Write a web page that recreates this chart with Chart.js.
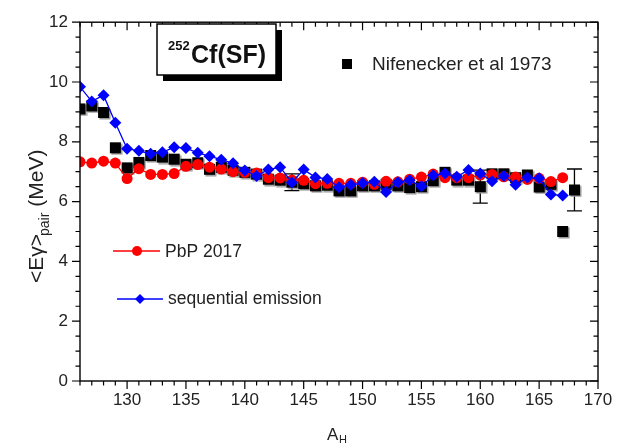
<!DOCTYPE html>
<html>
<head>
<meta charset="utf-8">
<script src="https://cdn.jsdelivr.net/npm/chart.js@4.4.0/dist/chart.umd.min.js"></script>
<style>
  html, body { margin: 0; padding: 0; background: #fff; }
</style>
</head>
<body>
<canvas id="chart" width="626" height="443"></canvas>
<script>
// heavy fragment mass A_H
const massModel = [126,127,128,129,130,131,132,133,134,135,136,137,138,139,140,141,142,143,144,145,146,
                   147,148,149,150,151,152,153,154,155,156,157,158,159,160,161,162,163,164,165,166,167];
const massExp = [126,127,128,129,130,131,132,133,134,135,136,137,138,139,140,141,142,143,144,145,146,
                 147,148,149,150,151,152,153,154,155,156,157,158,159,160,161,162,163,164,165,166,167,168];

// <E_gamma>_pair (MeV)
const pbp2017 = [7.33,7.29,7.35,7.29,6.77,7.10,6.91,6.91,6.94,7.18,7.24,7.15,7.09,7.00,6.98,6.96,6.80,6.79,6.72,6.71,6.60,
                 6.61,6.61,6.61,6.65,6.58,6.68,6.66,6.75,6.82,6.92,6.80,6.80,6.80,6.89,6.91,6.83,6.82,6.74,6.78,6.67,6.80];
const sequential = [9.84,9.35,9.56,8.64,7.77,7.70,7.60,7.65,7.82,7.79,7.63,7.52,7.40,7.28,7.04,6.86,7.07,7.15,6.64,7.07,6.81,
                    6.76,6.48,6.56,6.62,6.66,6.32,6.65,6.71,6.51,6.88,6.94,6.83,7.06,6.94,6.68,6.86,6.56,6.81,6.78,6.24,6.20];
const nifenecker = [9.10,9.20,8.98,7.80,7.13,7.31,7.54,7.49,7.42,7.25,7.30,7.08,7.15,7.05,6.98,6.92,6.75,6.72,6.65,6.60,6.53,
                    6.55,6.36,6.36,6.53,6.53,6.58,6.53,6.47,6.50,6.70,6.98,6.72,6.72,6.50,6.93,6.93,6.80,6.89,6.49,6.58,5.00,6.39];

// error bars on some of the 1973 points
const errMass = [144, 160, 168];
const errSize = [0.28, 0.55, 0.70];

const xTickLabels = [130, 135, 140, 145, 150, 155, 160, 165, 170];
const yTickLabels = [0, 2, 4, 6, 8, 10, 12];

const FONT = 'Arial, "Liberation Sans", sans-serif';
Chart.defaults.font.family = FONT;

// black square with a little grey shadow, like the original marker
const squareMark = document.createElement('canvas');
squareMark.width = 15;
squareMark.height = 15;
const sq = squareMark.getContext('2d');
sq.fillStyle = '#9a9a9a';
sq.fillRect(3.5, 3.5, 11, 11);
sq.fillStyle = '#000';
sq.fillRect(2, 2, 11, 11);

const toPoints = (xs, ys) => xs.map((x, i) => ({ x: x, y: ys[i] }));

const decorations = {
  id: 'decorations',
  beforeDatasetsDraw(chart) {
    const ctx = chart.ctx;
    const x = chart.scales.x, y = chart.scales.y;
    ctx.save();
    ctx.strokeStyle = '#000';
    ctx.lineWidth = 1.3;
    errMass.forEach((m, i) => {
      const v = nifenecker[massExp.indexOf(m)];
      const px = x.getPixelForValue(m);
      const y1 = y.getPixelForValue(v + errSize[i]);
      const y2 = y.getPixelForValue(v - errSize[i]);
      ctx.beginPath();
      ctx.moveTo(px, y1); ctx.lineTo(px, y2);
      ctx.moveTo(px - 7.5, y1); ctx.lineTo(px + 7.5, y1);
      ctx.moveTo(px - 7.5, y2); ctx.lineTo(px + 7.5, y2);
      ctx.stroke();
    });
    ctx.restore();
  },
  afterDraw(chart) {
    const ctx = chart.ctx;
    const {left, right, top, bottom} = chart.chartArea;
    const x = chart.scales.x, y = chart.scales.y;
    ctx.save();

    // frame and ticks (out on bottom/left, in on top/right)
    ctx.strokeStyle = '#000';
    ctx.lineWidth = 1.4;
    ctx.strokeRect(left, top, right - left, bottom - top);
    ctx.lineWidth = 1.2;
    ctx.beginPath();
    for (let v = x.min; v <= x.max; v++) {
      const px = x.getPixelForValue(v);
      const len = v % 5 === 0 ? 8 : 4.5;
      ctx.moveTo(px, bottom); ctx.lineTo(px, bottom + len);
      ctx.moveTo(px, top); ctx.lineTo(px, top + len);
    }
    for (let v = y.min; v <= y.max; v += 0.5) {
      const py = y.getPixelForValue(v);
      const len = v % 2 === 0 ? 8 : 4.5;
      ctx.moveTo(left, py); ctx.lineTo(left - len, py);
      ctx.moveTo(right, py); ctx.lineTo(right - len, py);
    }
    ctx.stroke();

    // 252Cf(SF) box with drop shadow
    ctx.fillStyle = '#000';
    ctx.fillRect(163, 30, 119, 51);
    ctx.fillStyle = '#fff';
    ctx.fillRect(157, 24, 119, 51);
    ctx.lineWidth = 1.5;
    ctx.strokeRect(157, 24, 119, 51);
    ctx.fillStyle = '#111';
    ctx.textBaseline = 'alphabetic';
    ctx.textAlign = 'left';
    ctx.font = 'bold 13px ' + FONT;
    ctx.fillText('252', 168, 50);
    ctx.font = 'bold 25px ' + FONT;
    ctx.fillText('Cf(SF)', 191, 63);

    // legends
    ctx.fillStyle = '#000';
    ctx.fillRect(342, 59, 10, 10);
    ctx.fillStyle = '#222';
    ctx.textBaseline = 'middle';
    ctx.font = '19px ' + FONT;
    ctx.fillText('Nifenecker et al 1973', 372, 65);

    ctx.lineWidth = 1.3;
    ctx.strokeStyle = '#ff0000';
    ctx.beginPath(); ctx.moveTo(113, 251); ctx.lineTo(160, 251); ctx.stroke();
    ctx.fillStyle = '#ff0000';
    ctx.beginPath(); ctx.arc(137, 251, 5, 0, Math.PI * 2); ctx.fill();
    ctx.fillStyle = '#222';
    ctx.font = '17.5px ' + FONT;
    ctx.fillText('PbP 2017', 165, 252);

    ctx.strokeStyle = '#0000ff';
    ctx.beginPath(); ctx.moveTo(117, 299); ctx.lineTo(163, 299); ctx.stroke();
    ctx.fillStyle = '#0000ff';
    ctx.beginPath();
    ctx.moveTo(140, 294); ctx.lineTo(145, 299); ctx.lineTo(140, 304); ctx.lineTo(135, 299);
    ctx.closePath(); ctx.fill();
    ctx.fillStyle = '#222';
    ctx.fillText('sequential emission', 168, 299);

    // axis titles
    ctx.textBaseline = 'alphabetic';
    ctx.font = '17px ' + FONT;
    ctx.fillText('A', 327, 440);
    ctx.font = '11px ' + FONT;
    ctx.fillText('H', 339, 443);

    ctx.translate(43, 283);
    ctx.rotate(-Math.PI / 2);
    ctx.font = '21px ' + FONT;
    ctx.fillText('<E\u03b3>', 0, 0);
    let w = ctx.measureText('<E\u03b3>').width;
    ctx.font = '14px ' + FONT;
    ctx.fillText('pair', w - 2, 6);
    w += ctx.measureText('pair').width - 2;
    ctx.font = '21px ' + FONT;
    ctx.fillText(' (MeV)', w, 0);

    ctx.restore();
  }
};

new Chart(document.getElementById('chart'), {
  type: 'scatter',
  data: {
    datasets: [
      {
        label: 'sequential emission',
        data: toPoints(massModel, sequential),
        showLine: true,
        borderColor: '#0000ff',
        borderWidth: 1.3,
        backgroundColor: '#0000ff',
        pointStyle: 'rectRot',
        pointRadius: 6,
        pointBorderWidth: 0
      },
      {
        label: 'PbP 2017',
        data: toPoints(massModel, pbp2017),
        showLine: true,
        borderColor: '#ff0000',
        borderWidth: 1.3,
        backgroundColor: '#ff0000',
        pointStyle: 'circle',
        pointRadius: 5.5,
        pointBorderWidth: 0
      },
      {
        label: 'Nifenecker et al 1973',
        data: toPoints(massExp, nifenecker),
        showLine: false,
        pointStyle: squareMark,
        pointRadius: 6
      }
    ]
  },
  options: {
    responsive: false,
    animation: false,
    devicePixelRatio: 1,
    layout: { padding: { top: 15, right: 28, left: 0, bottom: 0 } },
    plugins: { legend: { display: false }, tooltip: { enabled: false } },
    scales: {
      x: {
        type: 'linear',
        min: 126,
        max: 170,
        afterFit: (s) => { s.height = 62; },
        afterBuildTicks: (s) => { s.ticks = xTickLabels.map(v => ({ value: v })); },
        grid: { display: false, drawTicks: false, tickLength: 0 },
        border: { display: false },
        ticks: { autoSkip: false, maxRotation: 0, padding: 9, color: '#222', font: { size: 17 } }
      },
      y: {
        type: 'linear',
        min: 0,
        max: 12,
        afterFit: (s) => { s.width = 80; },
        afterBuildTicks: (s) => { s.ticks = yTickLabels.map(v => ({ value: v })); },
        grid: { display: false, drawTicks: false, tickLength: 0 },
        border: { display: false },
        ticks: { padding: 12, color: '#222', font: { size: 17 } }
      }
    }
  },
  plugins: [decorations]
});
</script>
</body>
</html>
